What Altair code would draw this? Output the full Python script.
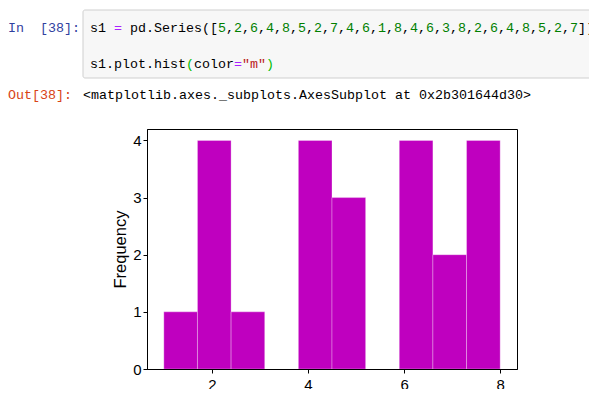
import altair as alt
import pandas as pd

# ---- data ----
values = [5, 2, 6, 4, 8, 5, 2, 7, 4, 6, 1, 8, 4, 6, 3, 8, 2, 6, 4, 8, 5, 2, 7]
bin_edges = [1.0, 1.7, 2.4, 3.1, 3.8, 4.5, 5.2, 5.9, 6.6, 7.3, 8.0]
counts = [1, 4, 1, 0, 4, 3, 0, 4, 2, 4]
x_ticks = [2, 4, 6, 8]
y_ticks = [0, 1, 2, 3, 4]
prompt_in = "In  [38]:"
prompt_out = "Out[38]:"
out_repr = "<matplotlib.axes._subplots.AxesSubplot at 0x2b301644d30>"

# ---- styles ----
MAG = "#BF00BF"
BLACK = "#000000"
PURPLE = "#AA22FF"
GREEN = "#008000"
BGREEN = "#00BB00"
RED = "#BA2121"
MONO = "Liberation Mono"
SANS = "Liberation Sans"
NB = "\u00a0"
ZW = "\u200b"

hist_df = pd.DataFrame({
    "start": bin_edges[:-1],
    "end": bin_edges[1:],
    "count": counts,
})
hist_df = hist_df[hist_df["count"] > 0]

one = pd.DataFrame({"a": [0]})

# code line segments
line1 = [("s1 ", BLACK), ("=", PURPLE), (" pd.Series([", BLACK)]
for i, v in enumerate(values):
    line1.append((str(v), GREEN))
    if i < len(values) - 1:
        line1.append((",", BLACK))
line1.append(("])", BLACK))
line2 = [("s1.plot.hist", BLACK), ("(", BGREEN), ("color", BLACK), ("=", PURPLE),
         ('"m"', RED), (")", BGREEN)]


def masked(segs):
    colors = []
    for _, c in segs:
        if c not in colors:
            colors.append(c)
    out = {}
    for col in colors:
        s = ""
        for t, c in segs:
            s += t.replace(" ", NB) if c == col else NB * len(t)
        out[col] = ZW + s.rstrip(NB)
    return out


def text_layer(s, x, y, color, font=MONO, size=13.33):
    return alt.Chart(one).mark_text(
        text=s.replace(" ", NB), align="left", baseline="alphabetic",
        font=font, fontSize=size, color=color
    ).encode(x=alt.value(x), y=alt.value(y))


layers = []

# code cell box
layers.append(
    alt.Chart(one).mark_rect(fill="#F7F7F7", stroke="#CFCFCF", strokeWidth=1, cornerRadius=2)
    .encode(x=alt.value(-64), x2=alt.value(460), y=alt.value(-119), y2=alt.value(-51))
)

# histogram
bars = alt.Chart(hist_df).mark_rect(
    color=MAG, stroke="white", strokeWidth=0.5, strokeOpacity=0.6
).encode(
    x=alt.X("start:Q", scale=alt.Scale(domain=[0.65, 8.35], nice=False, zero=False),
            axis=alt.Axis(values=x_ticks, title=None, grid=False, tickSize=4, tickColor=BLACK,
                          tickWidth=1, domainColor=BLACK, domainWidth=1, labelFont=SANS,
                          labelFontSize=15, labelColor=BLACK, labelPadding=4, zindex=1,
                          labelFlush=False)),
    x2="end:Q",
    y=alt.Y("count:Q", scale=alt.Scale(domain=[0, 4.2], nice=False),
            axis=alt.Axis(values=y_ticks, title="Frequency", grid=False, tickSize=4,
                          tickColor=BLACK, tickWidth=1, domainColor=BLACK, domainWidth=1,
                          labelFont=SANS, labelFontSize=15, labelColor=BLACK, labelPadding=2,
                          titleFont=SANS, titleFontSize=16.5, titleFontWeight="normal",
                          titleColor=BLACK, titlePadding=4, zindex=1, labelFlush=False)),
)
layers.append(bars)

# prompts and code text
layers.append(text_layer(prompt_in, -139, -97, "#303F9F"))
for col, s in masked(line1).items():
    layers.append(text_layer(s, -57, -97, col))
for col, s in masked(line2).items():
    layers.append(text_layer(s, -57, -61, col))
layers.append(text_layer(prompt_out, -139, -30, "#D84315"))
layers.append(text_layer(out_repr, -64, -30, BLACK))

chart = alt.layer(*layers).properties(
    width=370,
    height=240,
    autosize=alt.AutoSizeParams(type="none"),
    padding={"left": 139, "top": 121, "right": 72, "bottom": 20},
    background="white",
).configure_view(stroke=BLACK, strokeWidth=1)

chart.save("out.html", embed_options={"renderer": "svg", "actions": False})
